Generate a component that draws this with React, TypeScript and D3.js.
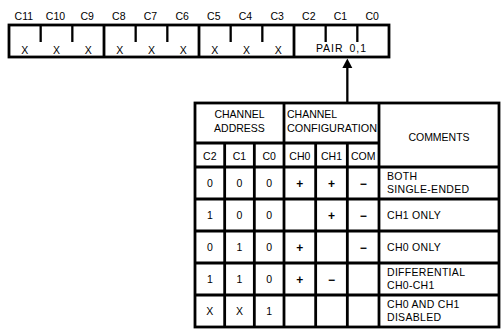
import { useEffect, useRef } from "react";
import * as d3 from "d3";

// register bits, left to right
const BIT_LABELS = ["C11", "C10", "C9", "C8", "C7", "C6", "C5", "C4", "C3", "C2", "C1", "C0"];
const BIT_VALUES = ["X", "X", "X", "X", "X", "X", "X", "X", "X", "", "", ""];
const PAIR_LABEL = "PAIR 0,1";

// table
const ADDRESS_HEADER = ["CHANNEL", "ADDRESS"];
const CONFIG_HEADER = ["CHANNEL", "CONFIGURATION"];
const COMMENTS_HEADER = "COMMENTS";
const ADDRESS_COLS = ["C2", "C1", "C0"];
const CONFIG_COLS = ["CH0", "CH1", "COM"];
const ADDRESS_ROWS = [
  ["0", "0", "0"],
  ["1", "0", "0"],
  ["0", "1", "0"],
  ["1", "1", "0"],
  ["X", "X", "1"],
];
const CONFIG_ROWS = [
  ["+", "+", "−"],
  ["", "+", "−"],
  ["+", "", "−"],
  ["+", "−", ""],
  ["", "", ""],
];
const COMMENT_ROWS = [
  ["BOTH", "SINGLE-ENDED"],
  ["CH1 ONLY"],
  ["CH0 ONLY"],
  ["DIFFERENTIAL", "CH0-CH1"],
  ["CH0 AND CH1", "DISABLED"],
];

const FONT = "'Liberation Sans', Arial, sans-serif";
const FS = "10.5px";

const App = () => {
  const ref = useRef<SVGSVGElement | null>(null);

  useEffect(() => {
    drawChart();
  }, []);

  const drawChart = () => {
    const svg = d3.select(ref.current);
    svg.selectAll("*").remove();
    const g = svg.append("g");

    const sw = 2.8;

    // ----- register -----
    const reg = { x0: 9, x1: 389, y0: 25, y1: 57 };
    const xBit = d3.scaleBand().domain(BIT_LABELS).range([reg.x0, reg.x1]);
    const bw = xBit.bandwidth();

    g.selectAll("text.bit")
      .data(BIT_LABELS)
      .join("text")
      .attr("x", (d) => xBit(d)! + bw / 2 - 1)
      .attr("y", 20)
      .attr("text-anchor", "middle")
      .style("font-size", FS)
      .text((d) => d);

    g.append("rect")
      .attr("x", reg.x0)
      .attr("y", reg.y0)
      .attr("width", reg.x1 - reg.x0)
      .attr("height", reg.y1 - reg.y0)
      .attr("fill", "none")
      .attr("stroke", "#000")
      .attr("stroke-width", sw);

    // group separators full height, inner ticks half height
    BIT_LABELS.slice(1).forEach((d, i) => {
      const full = (i + 1) % 3 === 0;
      g.append("line")
        .attr("x1", xBit(d)!)
        .attr("x2", xBit(d)!)
        .attr("y1", reg.y0)
        .attr("y2", full ? reg.y1 : reg.y0 + 17)
        .attr("stroke", "#000")
        .attr("stroke-width", full ? sw : 2.3);
    });

    g.selectAll("text.val")
      .data(BIT_LABELS.filter((_, i) => BIT_VALUES[i]))
      .join("text")
      .attr("x", (d) => xBit(d)! + bw / 2)
      .attr("y", 53.5)
      .attr("text-anchor", "middle")
      .style("font-size", FS)
      .text((_, i) => BIT_VALUES[i]);

    g.append("text")
      .attr("x", xBit("C1")! + bw / 2)
      .attr("y", 52)
      .attr("text-anchor", "middle")
      .style("font-size", FS)
      .style("letter-spacing", "1px")
      .style("word-spacing", "2px")
      .text(PAIR_LABEL);

    // ----- table -----
    const t = { x0: 195, xMid: 284, xCom: 379, x1: 499, y0: 103, yHead: 143, ySub: 167, y1: 327 };
    const xAddr = d3.scaleBand().domain(ADDRESS_COLS).range([t.x0, t.xMid]);
    const xConf = d3.scaleBand().domain(CONFIG_COLS).range([t.xMid, t.xCom]);
    const yRow = d3.scaleBand<number>().domain(d3.range(ADDRESS_ROWS.length)).range([t.ySub, t.y1]);

    // arrow from table to pair field
    const ax = xConf("COM")!;
    g.append("line")
      .attr("x1", ax)
      .attr("x2", ax)
      .attr("y1", t.y0)
      .attr("y2", 66)
      .attr("stroke", "#000")
      .attr("stroke-width", 2.3);
    g.append("path")
      .attr("d", `M${ax},${reg.y1 + 1.5}L${ax - 5},${reg.y1 + 11}L${ax + 5},${reg.y1 + 11}Z`)
      .attr("fill", "#000");

    const line = (x1: number, y1: number, x2: number, y2: number) =>
      g.append("line")
        .attr("x1", x1)
        .attr("y1", y1)
        .attr("x2", x2)
        .attr("y2", y2)
        .attr("stroke", "#000")
        .attr("stroke-width", sw);

    g.append("rect")
      .attr("x", t.x0)
      .attr("y", t.y0)
      .attr("width", t.x1 - t.x0)
      .attr("height", t.y1 - t.y0)
      .attr("fill", "none")
      .attr("stroke", "#000")
      .attr("stroke-width", sw);

    line(t.xMid, t.y0, t.xMid, t.y1);
    line(t.xCom, t.y0, t.xCom, t.y1);
    line(t.x0, t.yHead, t.xCom, t.yHead);
    yRow.domain().forEach((r) => line(t.x0, yRow(r)!, t.x1, yRow(r)!));
    ADDRESS_COLS.slice(1).forEach((c) => line(xAddr(c)!, t.yHead, xAddr(c)!, t.y1));
    CONFIG_COLS.slice(1).forEach((c) => line(xConf(c)!, t.yHead, xConf(c)!, t.y1));

    // headers
    g.selectAll("text.ah")
      .data(ADDRESS_HEADER)
      .join("text")
      .attr("x", (t.x0 + t.xMid) / 2)
      .attr("y", (_, i) => 118 + i * 14)
      .attr("text-anchor", "middle")
      .style("font-size", FS)
      .text((d) => d);

    g.selectAll("text.ch")
      .data(CONFIG_HEADER)
      .join("text")
      .attr("x", t.xMid + 3)
      .attr("y", (_, i) => 118 + i * 14)
      .style("font-size", FS)
      .text((d) => d)
      .filter((_, i) => i === 1)
      .attr("textLength", 90)
      .attr("lengthAdjust", "spacingAndGlyphs");

    g.append("text")
      .attr("x", (t.xCom + t.x1) / 2)
      .attr("y", 141)
      .attr("text-anchor", "middle")
      .style("font-size", FS)
      .text(COMMENTS_HEADER);

    const subCols = [
      ...ADDRESS_COLS.map((c) => ({ c, x: xAddr(c)! + xAddr.bandwidth() / 2 })),
      ...CONFIG_COLS.map((c) => ({ c, x: xConf(c)! + xConf.bandwidth() / 2 })),
    ];
    g.selectAll("text.sub")
      .data(subCols)
      .join("text")
      .attr("x", (d) => d.x)
      .attr("y", 160)
      .attr("text-anchor", "middle")
      .style("font-size", FS)
      .text((d) => d.c);

    // body
    const rh = yRow.bandwidth();
    ADDRESS_ROWS.forEach((row, r) => {
      const cy = yRow(r)! + rh / 2;
      row.forEach((v, j) => {
        g.append("text")
          .attr("x", xAddr(ADDRESS_COLS[j])! + xAddr.bandwidth() / 2)
          .attr("y", cy + 4)
          .attr("text-anchor", "middle")
          .style("font-size", FS)
          .text(v);
      });
      CONFIG_ROWS[r].forEach((v, j) => {
        if (!v) return;
        g.append("text")
          .attr("x", xConf(CONFIG_COLS[j])! + xConf.bandwidth() / 2)
          .attr("y", cy + 4.5)
          .attr("text-anchor", "middle")
          .style("font-size", "12px")
          .style("font-weight", "bold")
          .text(v);
      });
      const lines = COMMENT_ROWS[r];
      lines.forEach((v, k) => {
        g.append("text")
          .attr("x", t.xCom + 8)
          .attr("y", lines.length === 1 ? cy + 4 : yRow(r)! + 13 + k * 12.5)
          .style("font-size", FS)
          .style("letter-spacing", "0.3px")
          .text(v);
      });
    });
  };

  return (
    <svg
      ref={ref}
      width={501}
      height={329}
      style={{ position: "absolute", left: 0, top: 0, background: "#fff", fontFamily: FONT }}
    />
  );
};

export default App;
